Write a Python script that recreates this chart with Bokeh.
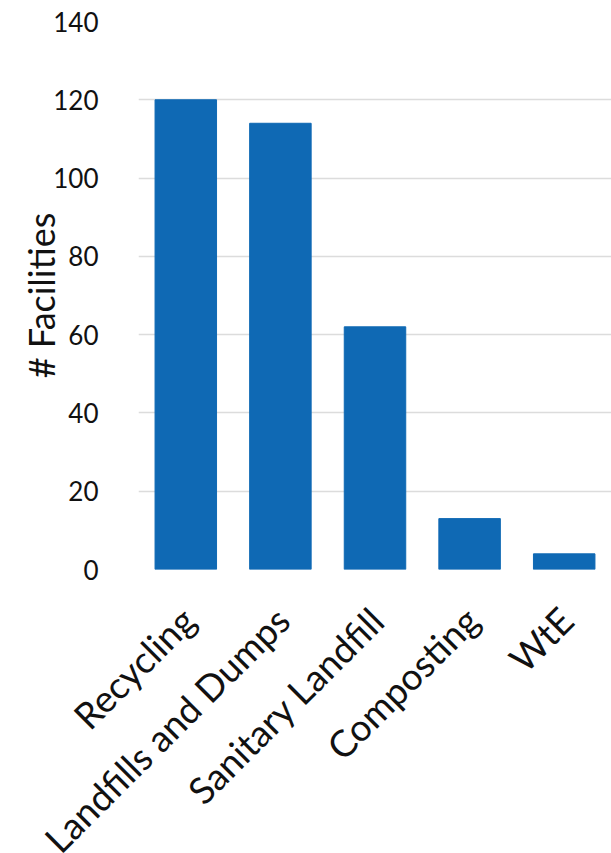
import math
from bokeh.plotting import figure
from bokeh.models import ColumnDataSource, Range1d, FixedTicker, LabelSet
from bokeh.core.properties import value
from bokeh.embed import file_html
from bokeh.resources import INLINE

categories = ["Recycling", "Landfills and Dumps", "Sanitary Landfill", "Composting", "WtE"]
facilities = [120, 114, 62, 13, 4]
y_ticks = [0, 20, 40, 60, 80, 100, 120, 140]

W = 611
LEFT = 138
H_TOP = 587      # chart figure (frame bottom at 569, 18px below for the "0" label)
H_BOT = 853 - H_TOP

src = ColumnDataSource(dict(cat=categories, val=facilities))

p = figure(x_range=categories, y_range=Range1d(0, 140), width=W, height=H_TOP,
           output_backend="svg", toolbar_location=None,
           min_border_left=LEFT, min_border_right=0, min_border_top=21, min_border_bottom=18)
p.vbar(x="cat", top="val", width=0.65, source=src, fill_color="#0F69B4", line_color="#0F69B4")

p.outline_line_color = None
p.xgrid.grid_line_color = None
p.xaxis.visible = False
p.ygrid.grid_line_color = "#dcdcdc"
p.ygrid.grid_line_width = 1.5
p.yaxis.ticker = FixedTicker(ticks=y_ticks)
p.yaxis.axis_line_color = None
p.yaxis.major_tick_line_color = None
p.yaxis.minor_tick_line_color = None
p.yaxis.major_label_text_font = "Lato"
p.yaxis.major_label_text_color = "#111111"
p.yaxis.major_label_text_font_size = "26px"
p.yaxis.major_label_standoff = 34
p.yaxis.axis_label = "# Facilities"
p.yaxis.axis_label_text_font = "Lato"
p.yaxis.axis_label_text_font_style = "normal"
p.yaxis.axis_label_text_font_size = "36px"
p.yaxis.axis_label_text_color = "#111111"
p.yaxis.axis_label_standoff = -13

# Category labels: a separate root figure below, whose numeric x scale mirrors
# the categorical scale of the bar chart (factor i sits at i + 0.5 of a 0..n range).
n = len(categories)
frame_w = W - LEFT
label_src = ColumnDataSource(dict(x=[i + 0.5 for i in range(n)], y=[1] * n, text=categories))
p2 = figure(x_range=Range1d(-LEFT * n / frame_w, n), y_range=Range1d(0, 1),
            width=W, height=H_BOT, output_backend="svg", toolbar_location=None,
            min_border=0)
p2.axis.visible = False
p2.grid.visible = False
p2.outline_line_color = None
labels = LabelSet(x="x", y="y", text="text", source=label_src, angle=math.pi / 4,
                  text_align="right", text_baseline="middle", x_offset=2, y_offset=-26,
                  text_font=value("Lato"), text_font_size=value("37px"),
                  text_color=value("#111111"))
p2.add_layout(labels)

open("out.html", "w").write(file_html((p, p2), INLINE))
